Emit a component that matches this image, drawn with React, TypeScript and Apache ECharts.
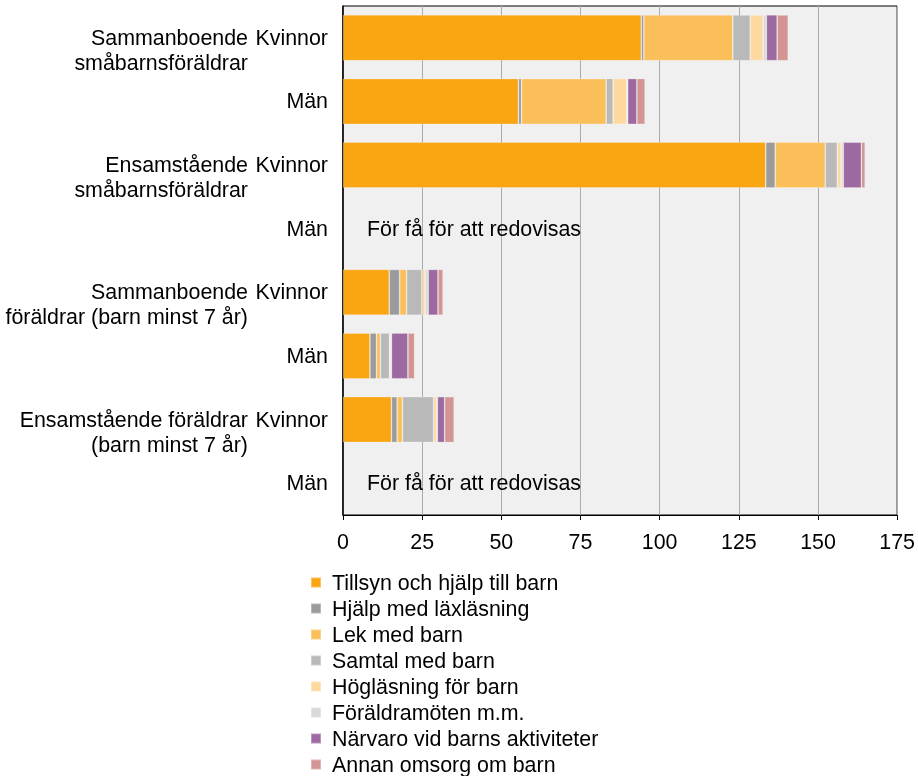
import React, { useEffect, useRef } from "react";
import * as echarts from "echarts";

const rowIds = ["r1", "r2", "r3", "r4", "r5", "r6", "r7", "r8"];
const sexLabels = ["Kvinnor", "Män", "Kvinnor", "Män", "Kvinnor", "Män", "Kvinnor", "Män"];
const groupLabels = [
  "Sammanboende\nsmåbarnsföräldrar",
  "",
  "Ensamstående\nsmåbarnsföräldrar",
  "",
  "Sammanboende\nföräldrar (barn minst 7 år)",
  "",
  "Ensamstående föräldrar\n(barn minst 7 år)",
  "",
];
const noDataText = "För få för att redovisas";
const noDataRows = ["r4", "r8"];

const seriesNames = [
  "Tillsyn och hjälp till barn",
  "Hjälp med läxläsning",
  "Lek med barn",
  "Samtal med barn",
  "Högläsning för barn",
  "Föräldramöten m.m.",
  "Närvaro vid barns aktiviteter",
  "Annan omsorg om barn",
];
const seriesColors = ["#F9A612", "#9B9B9B", "#FBBF5A", "#B9B9B9", "#FDD99F", "#D9D9D9", "#9C6AA0", "#D39494"];

const tillsyn = [94.2, 55.4, 133.5, null, 14.6, 8.5, 15.3, null];
const laxlasning = [0.8, 1.0, 3.0, null, 3.3, 2.1, 1.8, null];
const lek = [28.1, 26.7, 15.8, null, 2.2, 1.2, 1.7, null];
const samtal = [5.5, 2.2, 3.8, null, 4.8, 2.9, 9.8, null];
const hoglasning = [4.1, 4.3, 1.2, null, 1.0, 0.3, 1.0, null];
const foraldramoten = [1.0, 0.3, 0.7, null, 1.0, 0.3, 0.2, null];
const narvaro = [3.4, 2.9, 5.7, null, 3.1, 5.2, 2.3, null];
const annan = [3.5, 2.6, 1.2, null, 1.6, 2.1, 3.0, null];

const seriesValues = [tillsyn, laxlasning, lek, samtal, hoglasning, foraldramoten, narvaro, annan];

const xTicks = { min: 0, max: 175, interval: 25 };

const FONT = "'Liberation Sans', Arial, sans-serif";
const FS = 21.4;

export default function App() {
  const ref = useRef<HTMLDivElement>(null);
  useEffect(() => {
    if (!ref.current) return;
    const chart = echarts.init(ref.current, undefined, { renderer: "svg" });
    const bars = seriesNames.map((name, i) => ({
      name,
      type: "bar",
      stack: "total",
      barCategoryGap: "28%",
      data: seriesValues[i],
      itemStyle: { color: seriesColors[i], borderColor: "rgba(255,255,255,0.3)", borderWidth: 0.8 },
      emphasis: { disabled: true },
    }));
    chart.setOption({
      animation: false,
      textStyle: { fontFamily: FONT },
      grid: {
        left: 343,
        top: 6,
        width: 554.5,
        height: 509,
        show: true,
        backgroundColor: "#F0F0F0",
        borderColor: "#000",
        borderWidth: 1,
        containLabel: false,
      },
      xAxis: {
        type: "value",
        min: xTicks.min,
        max: xTicks.max,
        interval: xTicks.interval,
        axisLine: { show: true, lineStyle: { color: "#000", width: 1 } },
        axisTick: { show: true, length: 5, lineStyle: { color: "#000" } },
        splitLine: { show: true, lineStyle: { color: "#ABABAB", width: 1 } },
        axisLabel: { color: "#000", fontSize: FS, fontFamily: FONT, margin: 16 },
      },
      yAxis: [
        {
          type: "category",
          inverse: true,
          data: rowIds,
          axisLine: { show: true, lineStyle: { color: "#000", width: 1.5 } },
          axisTick: { show: false },
          axisLabel: {
            color: "#000",
            fontSize: FS,
            fontFamily: FONT,
            margin: 15,
            formatter: (v: string) => sexLabels[rowIds.indexOf(v)],
          },
        },
        {
          type: "category",
          inverse: true,
          position: "left",
          data: rowIds,
          axisLine: { show: false },
          axisTick: { show: false },
          splitLine: { show: false },
          axisLabel: {
            color: "#000",
            fontSize: FS,
            fontFamily: FONT,
            margin: 95,
            lineHeight: 25,
            align: "right",
            formatter: (v: string) => {
              const g = groupLabels[rowIds.indexOf(v)];
              return g ? " \n" + g : "";
            },
          },
        },
      ],
      legend: {
        orient: "vertical",
        left: 310,
        top: 572,
        padding: 0,
        itemGap: 5,
        itemWidth: 10,
        itemHeight: 10,
        icon: "rect",
        data: seriesNames,
        textStyle: { color: "#000", fontSize: FS, fontFamily: FONT, lineHeight: 21, padding: [0, 0, 0, 6] },
      },
      series: [
        ...bars,
        {
          name: "nodata",
          type: "scatter",
          symbolSize: 0,
          itemStyle: { opacity: 1 },
          data: noDataRows.map((r) => [0, r]),
          label: {
            show: true,
            position: "right",
            distance: 24,
            formatter: noDataText,
            color: "#000",
            opacity: 1,
            fontSize: FS,
            fontFamily: FONT,
          },
          silent: true,
        },
      ],
    });
    return () => chart.dispose();
  }, []);
  return <div ref={ref} style={{ position: "fixed", left: 0, top: 0, width: 918, height: 776 }} />;
}
